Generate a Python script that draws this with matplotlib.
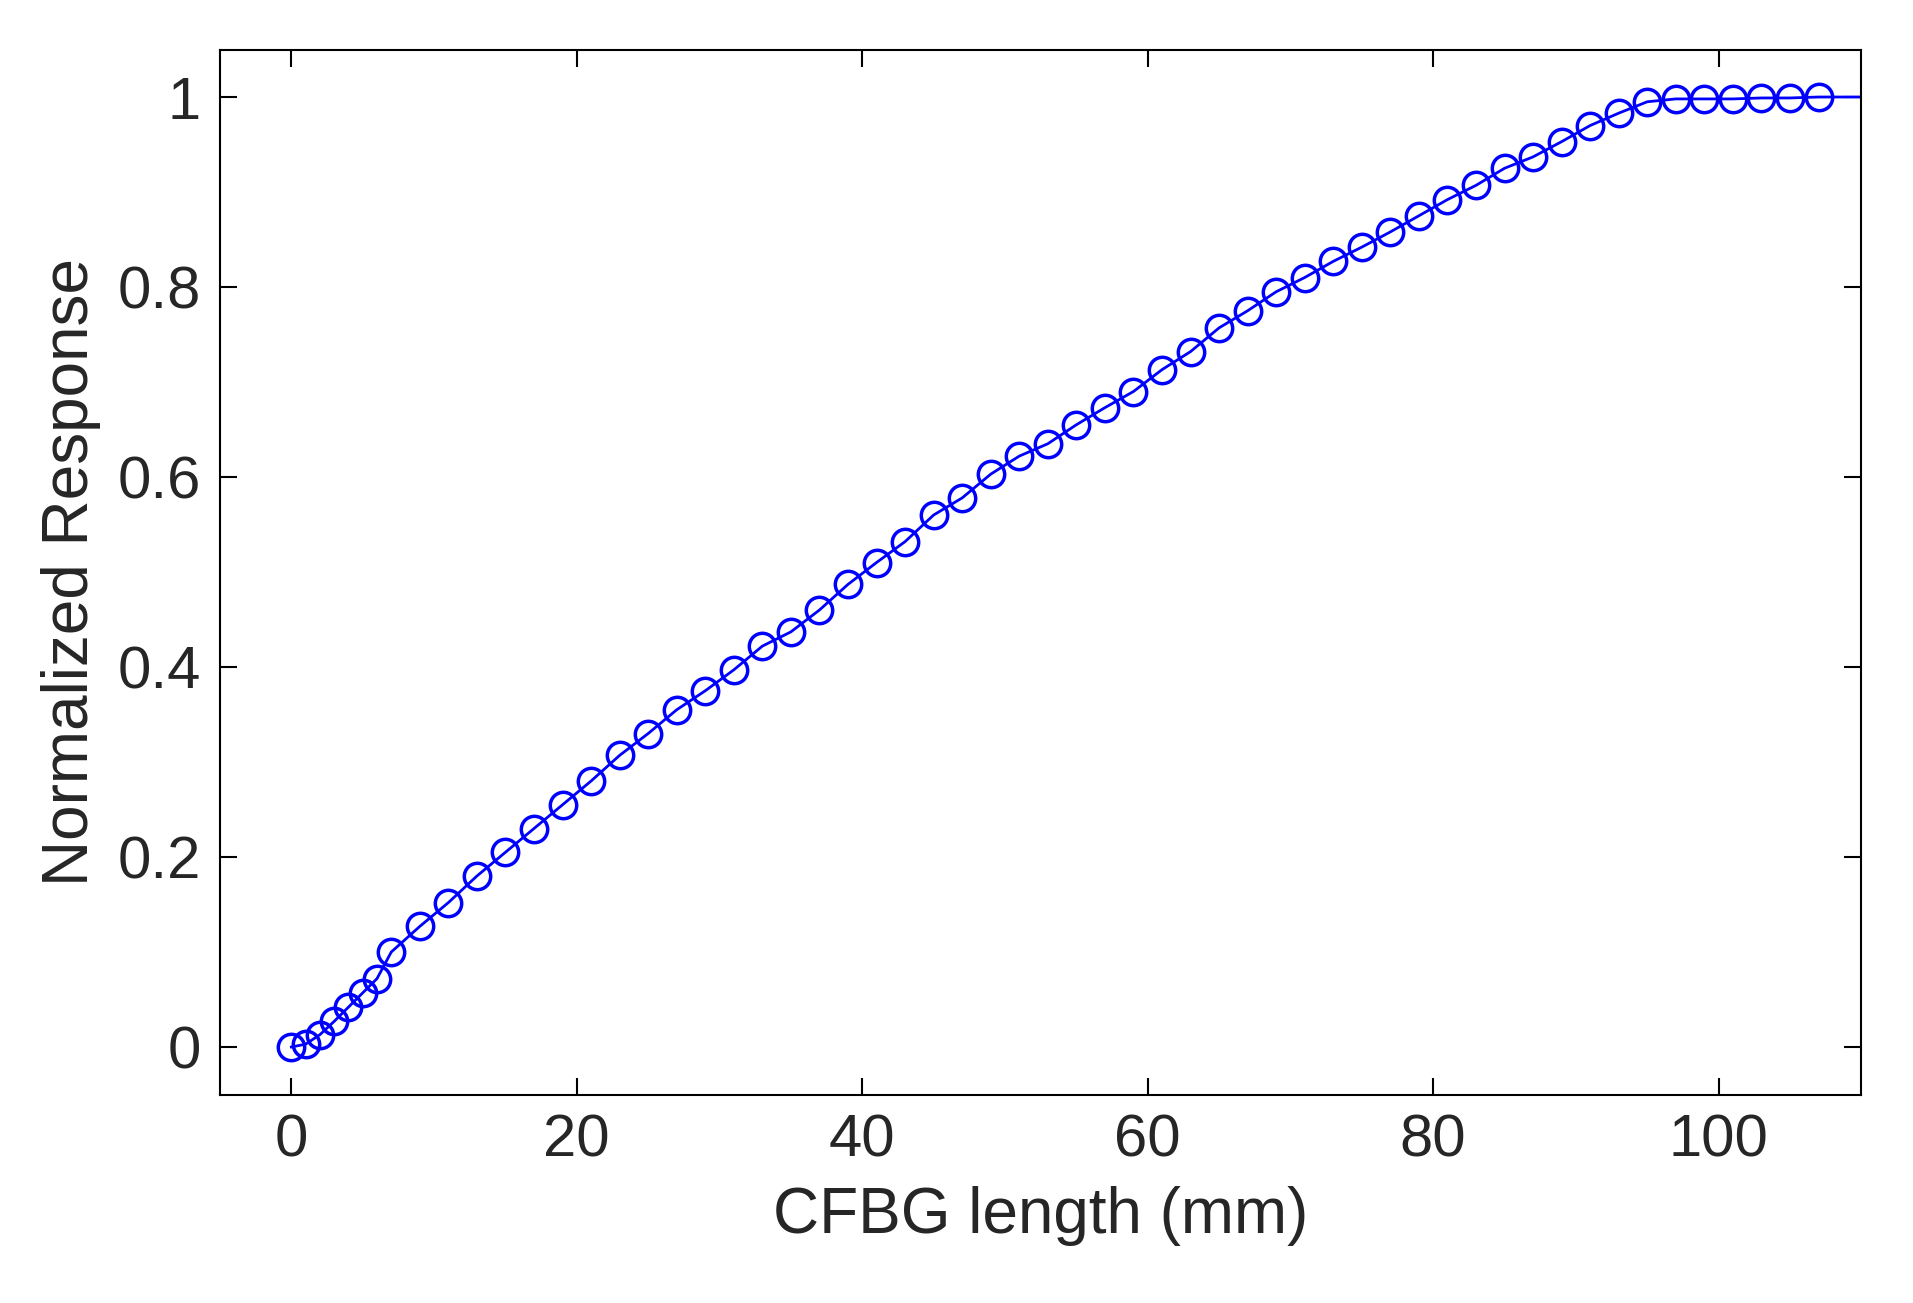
import matplotlib.pyplot as plt

plt.rcParams['font.family'] = ['Liberation Sans', 'DejaVu Sans']

# CFBG length (mm) and normalized response
length_mm = [0, 1, 2, 3, 4, 5, 6, 7, 9, 11, 13, 15, 17, 19, 21, 23, 25, 27, 29,
             31, 33, 35, 37, 39, 41, 43, 45, 47, 49, 51, 53, 55, 57, 59, 61, 63,
             65, 67, 69, 71, 73, 75, 77, 79, 81, 83, 85, 87, 89, 91, 93, 95, 97,
             99, 101, 103, 105, 107]
response = [0.0, 0.003, 0.013, 0.027, 0.042, 0.057, 0.072, 0.100, 0.127, 0.152,
            0.180, 0.205, 0.230, 0.255, 0.280, 0.307, 0.330, 0.355, 0.375, 0.397,
            0.422, 0.437, 0.460, 0.487, 0.510, 0.532, 0.560, 0.578, 0.603, 0.622,
            0.635, 0.655, 0.673, 0.690, 0.713, 0.732, 0.757, 0.775, 0.795, 0.810,
            0.827, 0.842, 0.858, 0.875, 0.892, 0.907, 0.925, 0.937, 0.953, 0.970,
            0.983, 0.995, 0.998, 0.998, 0.998, 0.999, 0.999, 1.000]
# line carries on to the right edge at the plateau
tail_x = [110]
tail_y = [1.0]

fig = plt.figure(figsize=(19.13, 13.03), dpi=100)
ax = fig.add_axes([0.115, 0.16, 0.858, 0.802])

ax.plot(length_mm + tail_x, response + tail_y, color='blue', lw=2,
        marker='o', markersize=19, markerfacecolor='none', markeredgewidth=2.5,
        markevery=list(range(len(length_mm))))

ax.set_xlim(-5, 110)
ax.set_ylim(-0.05, 1.05)
ax.set_xticks([0, 20, 40, 60, 80, 100])
ax.set_yticks([0, 0.2, 0.4, 0.6, 0.8, 1])
ax.set_yticklabels(['0', '0.2', '0.4', '0.6', '0.8', '1'])
ax.tick_params(direction='in', top=True, right=True, length=12, width=1.5,
               labelsize=43, labelcolor='#262626', pad=14)
for s in ax.spines.values():
    s.set_linewidth(1.5)
ax.set_xlabel('CFBG length (mm)', fontsize=46, color='#262626', labelpad=12)
ax.set_ylabel('Normalized Response', fontsize=46, color='#262626', labelpad=12)

fig.savefig('out.png', dpi=100)
